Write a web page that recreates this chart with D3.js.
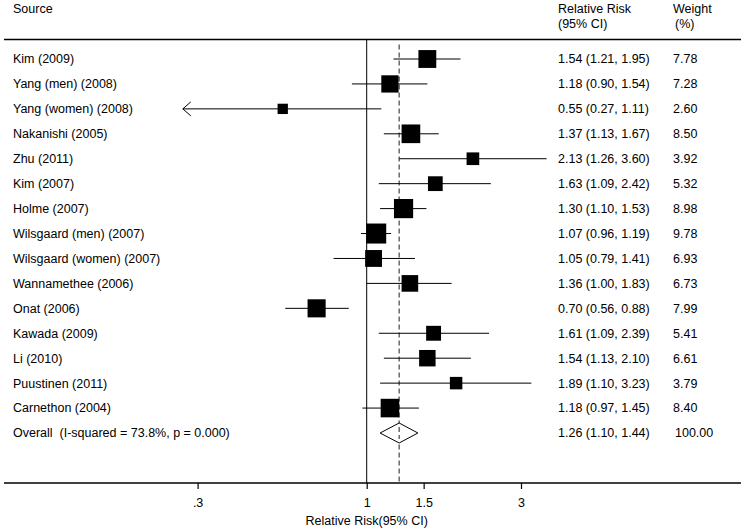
<!DOCTYPE html>
<html><head><meta charset="utf-8">
<script src="https://cdn.jsdelivr.net/npm/d3@7"></script>
<style>body{margin:0;background:#fff}svg{display:block}text{font-family:"Liberation Sans",Arial,sans-serif;font-size:12.5px;fill:#000}</style>
</head><body><svg id="c" width="745" height="531"></svg>
<script>
const sources = ["Kim (2009)","Yang (men) (2008)","Yang (women) (2008)","Nakanishi (2005)","Zhu (2011)","Kim (2007)","Holme (2007)","Wilsgaard (men) (2007)","Wilsgaard (women) (2007)","Wannamethee (2006)","Onat (2006)","Kawada (2009)","Li (2010)","Puustinen (2011)","Carnethon (2004)"];
const rr =    [1.54,1.18,0.55,1.37,2.13,1.63,1.30,1.07,1.05,1.36,0.70,1.61,1.54,1.89,1.18];
const lower = [1.21,0.90,0.27,1.13,1.26,1.09,1.10,0.96,0.79,1.00,0.56,1.09,1.13,1.10,0.97];
const upper = [1.95,1.54,1.11,1.67,3.60,2.42,1.53,1.19,1.41,1.83,0.88,2.39,2.10,3.23,1.45];
const weights = [7.78,7.28,2.60,8.50,3.92,5.32,8.98,9.78,6.93,6.73,7.99,5.41,6.61,3.79,8.40];
const overall = {label:"Overall  (I-squared = 73.8%, p = 0.000)", rr:1.26, lower:1.10, upper:1.44, weight:"100.00"};
const tickValues = [0.3,1,1.5,3];
const tickLabels = [".3","1","1.5","3"];

const svg = d3.select("#c");
const x = d3.scaleLog().domain([1, 3]).range([366.7, 521]);
const rowY = d3.scaleLinear().domain([0, 15]).range([59, 433]);
const topY = 39.5, axisY = 483;
const colSrc = 13, colRR = 558, colW = 673;
const boxSize = w => 6.4*Math.sqrt(w);
const fmt = d3.format(".2f");

// header
svg.append("text").attr("x",colSrc).attr("y",9).attr("dy","0.35em").text("Source");
svg.append("text").attr("x",colRR).attr("y",9).attr("dy","0.35em").text("Relative Risk");
svg.append("text").attr("x",colRR).attr("y",24).attr("dy","0.35em").text("(95% CI)");
svg.append("text").attr("x",colW).attr("y",9).attr("dy","0.35em").text("Weight");
svg.append("text").attr("x",colW+2).attr("y",24).attr("dy","0.35em").text("(%)");

svg.append("line").attr("x1",4).attr("x2",741).attr("y1",topY).attr("y2",topY).attr("stroke","#000").attr("stroke-width",1.5);

// reference lines
svg.append("line").attr("x1",x(1)).attr("x2",x(1)).attr("y1",topY).attr("y2",axisY).attr("stroke","#000").attr("stroke-width",1);
svg.append("line").attr("x1",x(overall.rr)).attr("x2",x(overall.rr)).attr("y1",topY+5).attr("y2",axisY)
  .attr("stroke","#444").attr("stroke-width",1.2).attr("stroke-dasharray","5,3");

const rows = svg.append("g");
sources.forEach((s,i)=>{
  const y = rowY(i);
  rows.append("text").attr("x",colSrc).attr("y",y).attr("dy","0.35em").text(s);
  rows.append("text").attr("x",colRR).attr("y",y).attr("dy","0.35em").text(`${fmt(rr[i])} (${fmt(lower[i])}, ${fmt(upper[i])})`);
  rows.append("text").attr("x",colW).attr("y",y).attr("dy","0.35em").text(fmt(weights[i]));
  rows.append("line").attr("x1",x(lower[i])).attr("x2",x(upper[i])).attr("y1",y).attr("y2",y).attr("stroke","#000").attr("stroke-width",1);
  const b = boxSize(weights[i]);
  rows.append("rect").attr("x",x(rr[i])-b/2).attr("y",y-b/2).attr("width",b).attr("height",b).attr("fill","#000");
  if (i===2) {
    const ax = x(lower[i]);
    rows.append("path").attr("d",`M${ax+8},${y-7} L${ax},${y} L${ax+8},${y+7}`).attr("fill","none").attr("stroke","#000").attr("stroke-width",1);
  }
});

// overall
const oy = rowY(15);
svg.append("text").attr("x",colSrc).attr("y",oy).attr("dy","0.35em").style("white-space","pre").text(overall.label);
svg.append("text").attr("x",colRR).attr("y",oy).attr("dy","0.35em").text(`${fmt(overall.rr)} (${fmt(overall.lower)}, ${fmt(overall.upper)})`);
svg.append("text").attr("x",colW+2).attr("y",oy).attr("dy","0.35em").text(overall.weight);
svg.append("path").attr("d",`M${x(overall.lower)},${oy} L${x(overall.rr)},${oy-10} L${x(overall.upper)},${oy} L${x(overall.rr)},${oy+10} Z`)
  .attr("fill","#fff").attr("stroke","#000").attr("stroke-width",1);
svg.append("line").attr("x1",x(overall.rr)).attr("x2",x(overall.rr)).attr("y1",oy-6).attr("y2",oy+6).attr("stroke","#444").attr("stroke-width",1.2).attr("stroke-dasharray","5,3");

// axis
svg.append("line").attr("x1",4).attr("x2",741).attr("y1",axisY).attr("y2",axisY).attr("stroke","#000").attr("stroke-width",1.5);
const ax = svg.append("g").attr("transform",`translate(0,${axisY})`)
  .call(d3.axisBottom(x).tickValues(tickValues).tickFormat((d,i)=>tickLabels[i]).tickSize(6).tickPadding(9));
ax.select(".domain").remove();
ax.selectAll("text").style("font-size","12.5px").attr("font-family",null);
ax.selectAll("line").attr("stroke-width",1.2);
svg.append("text").attr("x",x(1)).attr("y",521).attr("dy","0.35em").attr("text-anchor","middle").text("Relative Risk(95% CI)");
</script></body></html>
